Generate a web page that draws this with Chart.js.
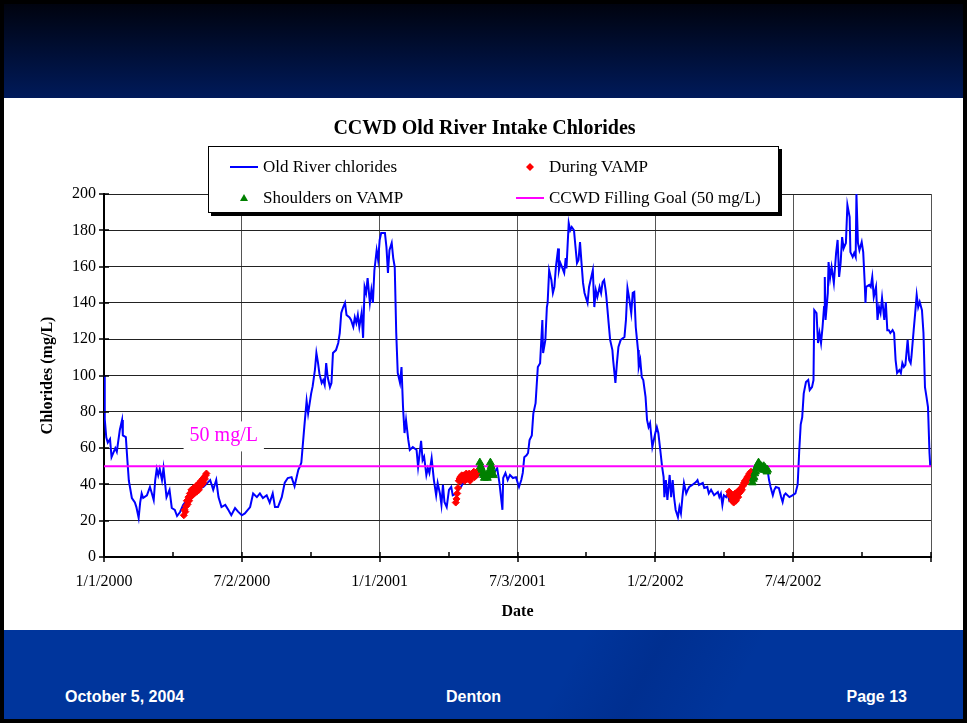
<!DOCTYPE html>
<html>
<head>
<meta charset="utf-8">
<script src="https://cdn.jsdelivr.net/npm/chart.js@4.4.1/dist/chart.umd.min.js"></script>
<style>
  html, body { margin: 0; padding: 0; background: #000; }
  #slide { position: relative; width: 967px; height: 723px; background: #000; overflow: hidden; }
  #header { position: absolute; left: 4px; top: 4px; width: 959px; height: 94px;
            background: linear-gradient(#00030f, #001a5a); }
  #body { position: absolute; left: 4px; top: 98px; width: 959px; height: 532px; background: #fff; }
  #footer { position: absolute; left: 4px; top: 630px; width: 959px; height: 89px;
            background: linear-gradient(118deg, rgba(0,0,0,0) 58%, rgba(0,20,90,0.18) 66%, rgba(0,0,0,0) 76%), #00359c; }
  #footer span { position: absolute; top: 58px; color: #fff; font: bold 16px "Liberation Sans", Arial, sans-serif; }
  #legend { position: absolute; left: 208px; top: 146px; width: 569px; height: 65px; background: #fff;
            border: 1px solid #000; box-shadow: 3px 3px 0 #000;
            font: 17px "Liberation Serif", "Times New Roman", serif; color: #000; }
  #legend .item { position: absolute; height: 20px; line-height: 20px; white-space: nowrap; }
  #legend svg { position: absolute; top: 0; }
  #legend .txt { position: absolute; left: 0; top: 0; }
</style>
</head>
<body>
<div id="slide">
  <div id="header"></div>
  <div id="body"><canvas id="chart" width="959" height="532"></canvas></div>
  <div id="legend"></div>
  <div id="footer">
    <span style="left:61px">October 5, 2004</span>
    <span style="left:442px">Denton</span>
    <span style="right:56px">Page 13</span>
  </div>
</div>
<script>
// days counted from 1/1/2000
const xTickLabels = ['1/1/2000', '7/2/2000', '1/1/2001', '7/3/2001', '1/2/2002', '7/4/2002'];
const xMaxDay = 1098;
const xMajorStep = 183;

// Old River chlorides [day, mg/L]
const oldRiver = [
  [0,100],[1,76],[3,66],[5,63],[8,65],[10,55],[15,60],[17,58],[21,70],[24,75.5],[25,67],[29,66],
  [31,53.5],[33,42],[37,32.5],[41,30],[43,27.5],[46,21.5],[48,30],[50,35],[52,32.5],[57,34],[61,38.6],
  [63,35.8],[66,31.4],[68,42.4],[70,48.5],[72,45],[74,48.5],[77,42.4],[79,49],[81,41],[83,33],[87,37],
  [90,27],[94,26],[97,22.6],[101,24.8],[105,28.7],[110,31.4],[114,35],[123,37],[132,38.6],[141,42.4],
  [145,37],[149,42.4],[152,33],[156,27.5],[161,28.7],[165,26],[169,23],[174,27],[178,25],[183,23],
  [187,24],[194,27.5],[198,35],[203,33],[207,35],[211,32.5],[216,34],[220,30],[224,35],[227,27.5],
  [231,27.5],[236,33],[240,41],[244,43.5],[249,44],[253,39],[258,48],[260,49.8],[262,52],[266,72],
  [269,86],[271,79],[275,90],[277,94],[280,103],[282,112.4],[284,107.4],[286,101],[289,95.9],[291,97.5],
  [293,94.8],[295,106.8],[297,99],[300,93.6],[302,95.9],[304,112.4],[308,114],[311,117.9],[313,123.4],
  [315,134.4],[317,137],[320,140],[322,133.3],[326,132],[328,130.6],[331,126.7],[333,132],[335,128.9],
  [337,133.3],[339,126.7],[342,134.4],[344,120.7],[346,148.8],[348,145.5],[350,153.7],[353,140],
  [355,147],[357,140],[359,158],[362,169],[364,163.6],[366,174.7],[368,178.5],[373,178.5],[375,170.8],
  [377,156.5],[379,169],[382,173],[384,164.7],[386,159.8],[388,123.4],[390,101.4],[393,95.9],[395,104.7],
  [397,82.6],[399,68.3],[401,75.5],[404,64.5],[406,59],[410,60.6],[415,59],[417,49.6],[421,64],
  [423,53.4],[425,55.3],[428,45.2],[430,49],[432,46.3],[435,54.5],[438,42.4],[441,34],[443,40.8],
  [446,35],[448,28.7],[450,39.7],[452,30.3],[455,27.5],[458,37],[461,38.6],[463,34],[468,35],[472,38],
  [474,38.6],[478,42],[484,44],[490,45],[496,44],[502,47],[508,46],[514,49],[518,46.3],[522,49],
  [525,40.8],[529,26],[530,43.5],[533,46.3],[536,42.4],[539,45.2],[543,43.5],[547,44],[551,38.6],
  [554,42.4],[556,46.3],[558,55],[561,56],[563,57.3],[565,64.5],[568,67],[570,79],[573,84.8],
  [576,104.7],[579,106.8],[582,130.6],[583,112.4],[586,119.6],[588,137.7],[589,140],[591,158],
  [594,152.6],[596,145.5],[598,148.8],[600,159.8],[603,170],[604,158],[606,161.9],[608,159.8],
  [611,156.5],[613,164.7],[614,159],[617,184],[619,180],[621,181.8],[624,180],[626,170.8],[628,161.9],
  [630,163.6],[632,173.5],[634,161.9],[636,151],[638,145.5],[640,142.7],[642,140],[644,148.8],
  [647,154.3],[649,158],[651,137.7],[653,147],[655,143.3],[658,148.8],[660,145.5],[662,151.5],
  [664,152.6],[666,147],[667,143.3],[670,128.9],[672,119.6],[675,114],[676,108.5],[679,95.9],
  [681,106.8],[683,115.7],[686,119.6],[691,121.2],[693,130.6],[695,148.2],[697,143.3],[700,134.4],
  [702,145.5],[704,146],[706,126.7],[709,114],[710,104.7],[712,108.5],[714,99],[716,97.5],[719,88.2],
  [721,75.5],[723,71.6],[725,73.8],[728,60.6],[730,64.5],[732,68.3],[734,71.6],[736,68.3],[739,57.3],
  [741,49.6],[743,44],[744,33],[746,42.4],[748,31.4],[751,45.2],[753,33],[755,42.4],[757,32.5],
  [759,25.9],[762,22],[764,27.5],[766,24],[768,33],[770,40.8],[773,35],[775,37],[777,38.6],[781,39.7],
  [786,41.3],[788,42.4],[790,39.7],[795,40.8],[797,38],[801,38.6],[803,35],[806,37],[810,34],
  [815,35.8],[817,33],[819,35],[821,28.7],[823,34],[826,33],[828,35],[830,31.4],[834,34],[841,36],
  [850,40],[859,44],[865,48],[870,51.8],[876,50],[881,48],[883,42.4],[885,38.6],[888,34],[890,37],
  [892,38.6],[896,38],[899,33],[901,30.3],[903,34],[905,35],[910,33],[914,34],[918,35],[921,40],
  [923,58],[925,73],[927,77],[929,90],[932,96.4],[935,97.5],[937,92],[940,93.6],[942,97.5],[943,136],
  [946,134.4],[948,117.9],[950,123.4],[952,117.9],[954,126.7],[956,137.7],[957,154.3],[958,130.6],
  [961,145.5],[962,162.5],[964,153.7],[966,159.8],[969,151],[972,167.5],[974,174.7],[976,154.3],
  [978,161.9],[980,176.3],[982,170],[985,173],[987,194],[990,187.3],[991,168],[994,165.3],[996,167.5],
  [998,165.3],[999,200],[1001,173],[1003,169],[1006,173.5],[1008,168],[1010,151],[1011,140],
  [1012,148.8],[1016,149.9],[1018,148.8],[1020,154.3],[1022,143.3],[1025,148.8],[1027,130.6],
  [1029,137.7],[1031,134.4],[1033,142.7],[1036,130.6],[1038,140.5],[1040,125],[1042,125],[1044,123.4],
  [1047,125],[1049,123.4],[1051,108.5],[1053,101.4],[1056,103],[1058,101.4],[1060,106.8],[1062,104.7],
  [1064,105.8],[1067,119.6],[1069,108.5],[1071,106.8],[1072,110.2],[1075,125],[1077,134.4],
  [1079,144.4],[1081,137.7],[1083,140.5],[1086,136],[1088,123.4],[1090,93.6],[1092,88.2],[1094,82.6],
  [1096,57.3],[1097,50]
];

// During VAMP [day, mg/L]
const duringVamp = [
  [106,23],[107,26],[108,25],[109,28],[110,31],[111,29],[112,33],[113,31],[114,35],[115,33],[116,37],
  [117,34],[118,36],[119,38],[120,35],[121,37],[122,39],[123,36],[124,38],[125,40],[126,37],[127,41],
  [128,39],[129,42],[130,40],[131,43],[132,41],[133,44],[134,43],[135,45],[136,46],
  [467,30],[468,32],[469,35],[470,38],[471,42],[472,43],[473,44],[474,42],[475,45],[476,43],[477,44],
  [478,45],[479,42],[480,44],[481,46],[482,43],[483,45],[484,44],[485,46],[486,42],[487,45],[488,44],
  [489,46],[490,45],[491,47],[492,44],[493,46],[494,45],[495,47],[496,46],
  [830,36],[831,34],[832,35],[833,33],[834,31],[835,32],[836,30],[837,33],[838,35],[839,31],[840,34],
  [841,36],[842,33],[843,35],[844,37],[845,36],[846,38],[847,37],[848,39],[849,40],[850,41],[851,42],
  [852,41],[853,43],[854,44],[855,43],[856,45],[857,46],[858,45],[859,47]
];

// Shoulders on VAMP [day, mg/L]
const shoulders = [
  [499,52],[500,50],[501,49],[502,48],[503,46],[504,45],[505,43.5],[506,44],[507,44.5],[508,44],
  [509,43.5],[510,45],[511,46],[512,48],[513,52],[514,50],[515,48],[516,46],[517,45],
  [861,41],[862,43],[863,44],[864,46],[865,47],[866,49],[867,50],[868,51],[869,52],[870,51],[871,50],
  [872,49],[873,50],[874,48],[875,49],[876,50],[877,48],[878,49],[879,48],[880,47],[881,48]
];

// CCWD filling goal
const goalDays = [0, 1098];
const goalCl = [50, 50];
const goalLabel = { text: '50 mg/L', day: 159, value: 67 };

const toXY = arr => arr.map(([d, v]) => ({ x: d, y: v }));

const tickMarks = {
  id: 'tickMarks',
  afterDraw(chart) {
    const { ctx, chartArea: a, scales: { x, y } } = chart;
    ctx.save();
    ctx.strokeStyle = '#000';
    ctx.lineWidth = 1.5;
    ctx.beginPath();
    x.ticks.forEach((t, i) => {
      const px = Math.round(x.getPixelForValue(t.value));
      ctx.moveTo(px, a.bottom - 5);
      ctx.lineTo(px, a.bottom + (i % 2 ? 0 : 5));
    });
    y.ticks.forEach(t => {
      const py = Math.round(y.getPixelForValue(t.value));
      ctx.moveTo(a.left - (t.value % 20 === 0 ? 5 : 0), py);
      ctx.lineTo(a.left + 5, py);
    });
    ctx.stroke();
    ctx.restore();
  }
};

const goalText = {
  id: 'goalText',
  beforeDatasetsDraw(chart) {
    const { ctx, scales: { x, y } } = chart;
    const px = x.getPixelForValue(goalLabel.day);
    const py = y.getPixelForValue(goalLabel.value);
    ctx.save();
    ctx.font = '20px "Liberation Serif"';
    const w = ctx.measureText(goalLabel.text).width;
    ctx.fillStyle = '#fff';
    ctx.fillRect(px - w / 2 - 6, py - 14, w + 12, 30);
    ctx.fillStyle = '#ff00ff';
    ctx.textAlign = 'center';
    ctx.textBaseline = 'middle';
    ctx.fillText(goalLabel.text, px, py);
    ctx.restore();
  }
};

const serif = 'Liberation Serif';

new Chart(document.getElementById('chart'), {
  type: 'line',
  data: {
    datasets: [
      {
        label: 'Shoulders on VAMP',
        data: toXY(shoulders),
        showLine: false,
        pointStyle: 'triangle',
        pointRadius: 4.5,
        backgroundColor: '#008000',
        borderColor: '#008000',
        borderWidth: 1,
        order: 0
      },
      {
        label: 'During VAMP',
        data: toXY(duringVamp),
        showLine: false,
        pointStyle: 'rectRot',
        pointRadius: 3.5,
        backgroundColor: '#ff0000',
        borderColor: '#ff0000',
        borderWidth: 1,
        order: 1
      },
      {
        label: 'CCWD Filling Goal (50 mg/L)',
        data: goalDays.map((d, i) => ({ x: d, y: goalCl[i] })),
        borderColor: '#ff00ff',
        borderWidth: 2,
        pointRadius: 0,
        order: 2
      },
      {
        label: 'Old River chlorides',
        data: toXY(oldRiver),
        borderColor: '#0000ff',
        borderWidth: 2,
        pointRadius: 0,
        tension: 0,
        order: 3
      }
    ]
  },
  options: {
    responsive: false,
    animation: false,
    layout: { padding: { left: 34, right: 32, top: 0, bottom: 0 } },
    plugins: {
      legend: { display: false },
      tooltip: { enabled: false },
      title: {
        display: true,
        text: 'CCWD Old River Intake Chlorides',
        color: '#000',
        font: { family: serif, size: 20, weight: 'bold' },
        padding: { top: 19, bottom: 53 }
      }
    },
    scales: {
      x: {
        type: 'linear',
        min: 0,
        max: xMaxDay,
        afterBuildTicks: scale => {
          const t = [];
          for (let v = 0; v <= xMaxDay; v += xMajorStep / 2) t.push({ value: v });
          scale.ticks = t;
        },
        afterFit: scale => { scale.height = 73; },
        grid: {
          drawTicks: false,
          color: c => (c.index % 2 === 0 ? '#555' : 'rgba(0,0,0,0)'),
          lineWidth: 1
        },
        border: { display: true, color: '#000', width: 2 },
        ticks: {
          autoSkip: false,
          maxRotation: 0,
          padding: 15,
          color: '#000',
          font: { family: serif, size: 16 },
          callback: (v, i) => (i % 2 === 0 ? (xTickLabels[i / 2] || '') : '')
        },
        title: {
          display: true,
          text: 'Date',
          color: '#000',
          font: { family: serif, size: 16, weight: 'bold' },
          padding: { top: 0, bottom: 9 }
        }
      },
      y: {
        min: 0,
        max: 200,
        afterFit: scale => { scale.width = 66; },
        grid: {
          drawTicks: false,
          color: c => (c.tick && c.tick.value % 20 === 0 ? '#222' : 'rgba(0,0,0,0)'),
          lineWidth: 1
        },
        border: { display: true, color: '#000', width: 2 },
        ticks: {
          stepSize: 10,
          padding: 8,
          color: '#000',
          font: { family: serif, size: 16 },
          callback: v => (v % 20 === 0 ? v : '')
        },
        title: {
          display: true,
          text: 'Chlorides (mg/L)',
          color: '#000',
          font: { family: serif, size: 16, weight: 'bold' },
          padding: { top: 0, bottom: 0 }
        }
      }
    }
  },
  plugins: [goalText, tickMarks]
});

// legend overlay
const legendItems = [
  { text: 'Old River chlorides', mark: 'line', color: '#0000ff', left: 20, top: 10 },
  { text: 'During VAMP', mark: 'diamond', color: '#ff0000', left: 306, top: 10 },
  { text: 'Shoulders on VAMP', mark: 'triangle', color: '#008000', left: 20, top: 41 },
  { text: 'CCWD Filling Goal (50 mg/L)', mark: 'line', color: '#ff00ff', left: 306, top: 41 }
];
const legendEl = document.getElementById('legend');
legendItems.forEach(it => {
  const d = document.createElement('div');
  d.className = 'item';
  d.style.left = it.left + 'px';
  d.style.top = it.top + 'px';
  let svg;
  if (it.mark === 'line') {
    svg = `<svg width="30" height="20" style="left:0"><line x1="1" y1="10" x2="29" y2="10" stroke="${it.color}" stroke-width="2"/></svg>`;
  } else if (it.mark === 'diamond') {
    svg = `<svg width="30" height="20" style="left:0"><polygon points="15,6 19,10 15,14 11,10" fill="${it.color}"/></svg>`;
  } else {
    svg = `<svg width="30" height="20" style="left:0"><polygon points="15,6 19,13 11,13" fill="${it.color}"/></svg>`;
  }
  d.innerHTML = svg + `<span class="txt" style="left:34px">${it.text}</span>`;
  legendEl.appendChild(d);
});
</script>
</body>
</html>
